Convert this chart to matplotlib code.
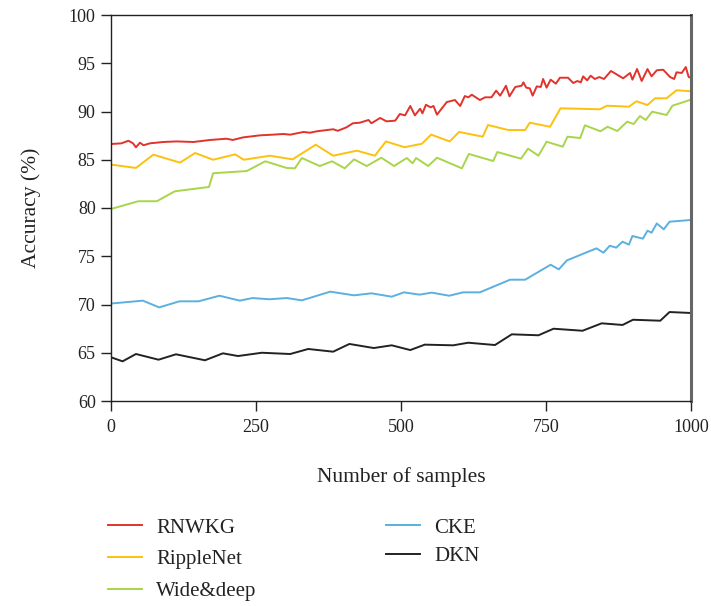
import matplotlib
matplotlib.use("Agg")
import matplotlib.pyplot as plt

plt.rcParams['font.family'] = ['Liberation Serif', 'DejaVu Serif']

# ---- data ----
rnwkg_x = [0, 18, 30, 38, 43, 50, 56, 67, 90, 113, 142, 171, 199, 210, 228, 257, 279, 297, 309, 332,
           343, 355, 383, 391, 406, 417, 429, 444, 449, 464, 475, 490, 498, 507, 516, 524, 533, 537,
           543, 551, 556, 562, 570, 579, 593, 602, 610, 616, 622, 636, 645, 656, 664, 671, 681, 687,
           697, 708, 711, 716, 722, 727, 734, 741, 745, 751, 758, 767, 774, 788, 797, 804, 810, 814,
           821, 827, 834, 842, 850, 862, 883, 895, 899, 907, 915, 925, 932, 941, 952, 964, 971, 975,
           984, 991, 996, 1000]
rnwkg_y = [86.63, 86.7, 86.97, 86.7, 86.29, 86.77, 86.5, 86.7, 86.84, 86.9, 86.84, 87.05, 87.18, 87.05,
           87.32, 87.53, 87.6, 87.67, 87.6, 87.88, 87.8, 87.95, 88.16, 88.0, 88.36, 88.78, 88.84, 89.12,
           88.78, 89.33, 88.98, 89.05, 89.74, 89.6, 90.57, 89.6, 90.29, 89.81, 90.7, 90.43, 90.57, 89.67,
           90.29, 90.98, 91.19, 90.57, 91.6, 91.47, 91.74, 91.19, 91.47, 91.47, 92.16, 91.64, 92.67,
           91.57, 92.54, 92.67, 93.02, 92.47, 92.4, 91.64, 92.6, 92.54, 93.37, 92.47, 93.3, 92.88, 93.5,
           93.5, 92.95, 93.16, 93.02, 93.64, 93.23, 93.71, 93.37, 93.57, 93.37, 94.2, 93.44, 93.99, 93.3,
           94.4, 93.16, 94.4, 93.64, 94.27, 94.33, 93.57, 93.37, 94.06, 93.99, 94.61, 93.57, 93.5]

ripple_x = [0, 43, 73, 119, 145, 176, 214, 229, 274, 313, 353, 383, 424, 455, 474, 506, 536, 552, 584,
            600, 641, 650, 685, 714, 722, 757, 775, 843, 855, 893, 906, 925, 938, 958, 975, 1000]
ripple_y = [84.5, 84.15, 85.53, 84.7, 85.7, 85.0, 85.56, 85.0, 85.42, 85.04, 86.56, 85.42, 85.94, 85.42,
            86.9, 86.3, 86.66, 87.6, 86.9, 87.88, 87.39, 88.6, 88.08, 88.08, 88.84, 88.42, 90.33, 90.23,
            90.6, 90.5, 91.06, 90.67, 91.37, 91.37, 92.2, 92.1]

wide_x = [0, 47, 79, 110, 169, 176, 234, 266, 303, 317, 329, 360, 381, 403, 419, 441, 466, 488, 510,
          520, 526, 547, 562, 605, 617, 659, 666, 707, 719, 737, 751, 779, 787, 809, 817, 844, 856, 873,
          890, 901, 912, 922, 933, 958, 968, 1000]
wide_y = [79.9, 80.7, 80.7, 81.73, 82.18, 83.6, 83.83, 84.84, 84.15, 84.11, 85.18, 84.35, 84.84, 84.11,
          85.04, 84.35, 85.21, 84.35, 85.18, 84.63, 85.18, 84.35, 85.21, 84.11, 85.6, 84.87, 85.8, 85.11,
          86.15, 85.42, 86.87, 86.35, 87.39, 87.25, 88.57, 87.95, 88.42, 87.98, 88.95, 88.7, 89.53,
          89.12, 89.98, 89.64, 90.6, 91.23]

cke_x = [0, 55, 83, 118, 151, 187, 222, 244, 273, 303, 329, 378, 419, 449, 484, 505, 532, 553, 583,
         607, 636, 688, 714, 758, 772, 786, 837, 849, 860, 871, 882, 893, 899, 917, 925, 932, 941, 953,
         963, 1000]
cke_y = [70.1, 70.4, 69.7, 70.33, 70.33, 70.91, 70.4, 70.67, 70.54, 70.67, 70.43, 71.33, 70.95, 71.16,
         70.81, 71.26, 71.02, 71.23, 70.91, 71.26, 71.26, 72.57, 72.57, 74.12, 73.64, 74.57, 75.82,
         75.37, 76.09, 75.89, 76.51, 76.2, 77.1, 76.82, 77.65, 77.44, 78.4, 77.79, 78.58, 78.76]

dkn_x = [0, 20, 43, 82, 112, 162, 193, 219, 260, 309, 340, 383, 411, 453, 484, 516, 541, 590, 616, 662,
         691, 737, 763, 813, 846, 882, 900, 947, 963, 1000]
dkn_y = [64.53, 64.11, 64.87, 64.28, 64.84, 64.22, 64.94, 64.66, 65.0, 64.87, 65.39, 65.11, 65.91,
         65.49, 65.77, 65.28, 65.84, 65.77, 66.04, 65.8, 66.91, 66.81, 67.49, 67.28, 68.05, 67.88,
         68.42, 68.32, 69.22, 69.12]

names = ["RNWKG", "RippleNet", "Wide&deep", "CKE", "DKN"]
colors = ["#e2332b", "#fcc10f", "#a8d54a", "#5bb0e0", "#222222"]

xticks = [0, 250, 500, 750, 1000]
yticks = [60, 65, 70, 75, 80, 85, 90, 95, 100]

fig = plt.figure(figsize=(7.11, 6.06), dpi=100)
ax = fig.add_axes([111 / 711, 1 - 401 / 606, 580 / 711, 386 / 606])

series = [(rnwkg_x, rnwkg_y), (ripple_x, ripple_y), (wide_x, wide_y), (cke_x, cke_y), (dkn_x, dkn_y)]
handles = []
for (xs, ys), name, c in zip(series, names, colors):
    h, = ax.plot(xs, ys, color=c, lw=1.4, label=name)
    handles.append(h)

ax.set_xlim(0, 1000)
ax.set_ylim(60, 100)
ax.set_xticks(xticks)
ax.set_yticks(yticks)
ax.tick_params(axis='both', direction='out', length=7, width=1, labelsize=13, colors='#222222',
               top=False, right=False)
ax.tick_params(axis='x', pad=6)
ax.tick_params(axis='y', pad=4)
for side in ['left', 'bottom', 'top']:
    ax.spines[side].set_color('#222222')
    ax.spines[side].set_linewidth(1)
ax.spines['right'].set_color('#666666')
ax.spines['right'].set_linewidth(2.2)

ax.set_xlabel("Number of samples", fontsize=15.5, color='#222222', labelpad=22)
ax.set_ylabel("Accuracy (%)", fontsize=15.5, color='#222222', labelpad=20)

common = dict(loc='upper left', frameon=False, fontsize=15, handlelength=1.65, handletextpad=0.65,
              borderpad=0, borderaxespad=0)
leg1 = fig.legend(handles[:3], names[:3], bbox_to_anchor=(108 / 711, 1 - 518 / 606),
                  labelspacing=0.58, **common)
leg2 = fig.legend(handles[3:], names[3:], bbox_to_anchor=(386 / 711, 1 - 518 / 606),
                  labelspacing=0.42, **common)
for leg in (leg1, leg2):
    for t in leg.get_texts():
        t.set_color('#222222')

fig.savefig("out.png", dpi=100)
